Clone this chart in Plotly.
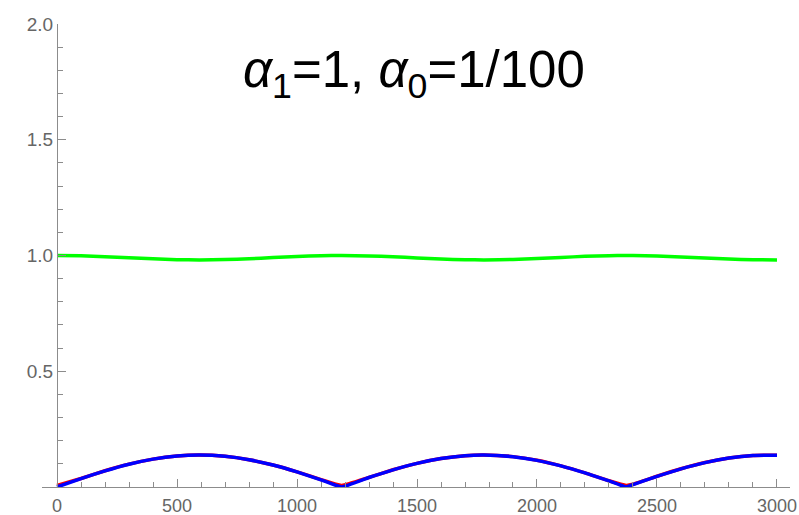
import plotly.graph_objects as go

x_vals = [0, 100, 200, 300, 400, 500, 593, 700, 800, 900, 1000, 1100, 1186,
          1300, 1400, 1500, 1600, 1700, 1779, 1900, 2000, 2100, 2200, 2300, 2372,
          2400, 2500, 2600, 2700, 2800, 2900, 3000]

blue_vals = [0.0, 0.0361, 0.0698, 0.0985, 0.1203, 0.1338, 0.1380, 0.1325, 0.1177, 0.0948, 0.0651, 0.0311, 0.0,
             0.0410, 0.0741, 0.1020, 0.1228, 0.1350, 0.1380, 0.1310, 0.1151, 0.0910, 0.0607, 0.0262, 0.0,
             0.0102, 0.0459, 0.0784, 0.1054, 0.1250, 0.1360, 0.1374]

red_vals = [0.007, 0.0368, 0.0701, 0.0987, 0.1205, 0.1340, 0.1382, 0.1327, 0.1179, 0.0950, 0.0655, 0.0320, 0.007,
            0.0415, 0.0744, 0.1022, 0.1230, 0.1352, 0.1382, 0.1312, 0.1153, 0.0913, 0.0612, 0.0270, 0.007,
            0.0122, 0.0464, 0.0787, 0.1056, 0.1252, 0.1362, 0.1376]

green_vals = [1.0, 0.9987, 0.9951, 0.9903, 0.9855, 0.9821, 0.9810, 0.9824, 0.9861, 0.9910, 0.9958, 0.9990, 1.0,
              0.9983, 0.9945, 0.9896, 0.9849, 0.9818, 0.9810, 0.9828, 0.9868, 0.9917, 0.9963, 0.9993, 1.0,
              0.9999, 0.9979, 0.9939, 0.9889, 0.9844, 0.9815, 0.9811]

x_ticks = [0, 500, 1000, 1500, 2000, 2500, 3000]
y_ticks = [0.5, 1.0, 1.5, 2.0]
y_ticktext = ["0.5", "1.0", "1.5", "2.0"]

fig = go.Figure()
fig.add_trace(go.Scatter(x=x_vals, y=green_vals, mode="lines",
                         line=dict(color="#00FF00", width=3.5, shape="spline", smoothing=0.6),
                         cliponaxis=False))
fig.add_trace(go.Scatter(x=x_vals, y=red_vals, mode="lines",
                         line=dict(color="#FF0000", width=3.5, shape="spline", smoothing=0.4),
                         cliponaxis=False))
fig.add_trace(go.Scatter(x=x_vals, y=blue_vals, mode="lines",
                         line=dict(color="#0000FF", width=3.5, shape="spline", smoothing=0.4),
                         cliponaxis=False))

axis_gray = "#8c8c8c"
x_font = dict(family="Liberation Sans, Arial, sans-serif", size=18, color="#666666")
y_font = dict(family="Liberation Sans, Arial, sans-serif", size=19, color="#666666")

fig.update_layout(
    width=799, height=515,
    margin=dict(l=42, r=9, t=24, b=28),
    paper_bgcolor="white", plot_bgcolor="white",
    showlegend=False,
    xaxis=dict(
        range=[-62.5, 3054.2],
        automargin=False,
        showgrid=False, zeroline=False,
        showline=True, linecolor=axis_gray, linewidth=1,
        tickmode="array", tickvals=x_ticks, ticktext=[str(v) for v in x_ticks],
        ticks="inside", ticklen=8, tickcolor=axis_gray, tickwidth=1,
        ticklabelstandoff=2,
        minor=dict(tickmode="linear", tick0=0, dtick=100, ticks="inside",
                   ticklen=5, tickcolor=axis_gray, tickwidth=1, showgrid=False),
        tickfont=x_font,
    ),
    yaxis=dict(
        range=[0, 2],
        automargin=False,
        anchor="free", position=15 / 748,
        showgrid=False, zeroline=False,
        showline=True, linecolor=axis_gray, linewidth=1,
        tickmode="array", tickvals=y_ticks, ticktext=y_ticktext,
        ticks="inside", ticklen=8, tickcolor=axis_gray, tickwidth=1,
        minor=dict(tickmode="linear", tick0=0, dtick=0.1, ticks="inside",
                   ticklen=5, tickcolor=axis_gray, tickwidth=1, showgrid=False),
        tickfont=y_font,
    ),
    annotations=[dict(
        text="<i>α</i><sub>1</sub>=1, <i>α</i><sub>0</sub>=1/100",
        x=0.497, y=0.893, xref="paper", yref="paper",
        showarrow=False, xanchor="center", yanchor="middle",
        font=dict(family="Liberation Sans, Arial, sans-serif", size=51, color="black"),
    )],
)

fig.write_html("out.html")
